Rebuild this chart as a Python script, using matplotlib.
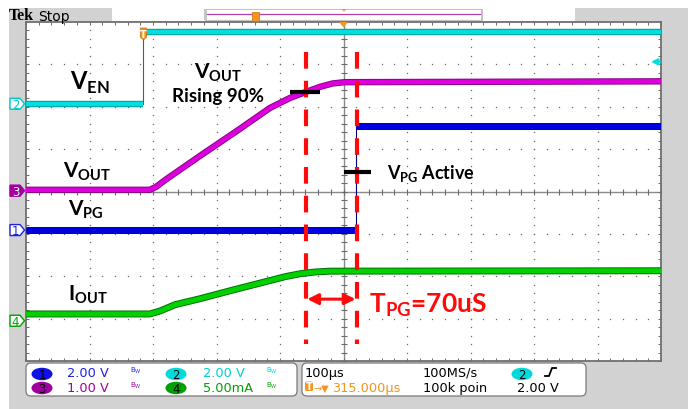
import numpy as np
import matplotlib.pyplot as plt
import matplotlib.transforms as mtransforms
from matplotlib.patches import Rectangle, FancyBboxPatch, Polygon, Ellipse
from matplotlib.lines import Line2D

plt.rcParams['mathtext.fontset'] = 'custom'
plt.rcParams['mathtext.rm'] = 'Lato'
plt.rcParams['mathtext.bf'] = 'Lato:bold'

W, H = 688, 410

# horizontal axis: microseconds after trigger, 100 us/div, screen centre at 315 us
t_center = 315
t_div = 100
# vertical axis: divisions from screen centre (8 divisions tall)

# CH2 - V_EN
en_t = [-185, 0, 0, 815]
en_y = [2.07, 2.07, 3.76, 3.76]

# CH3 - V_OUT
out_t = [-185, 10, 20, 34, 89, 152, 199, 231, 256, 278, 298, 317, 815]
out_y = [0.04, 0.04, 0.11, 0.27, 0.84, 1.48, 1.97, 2.21, 2.35, 2.47, 2.55, 2.58, 2.60]

# CH1 - V_PG
pg_t = [-185, 335, 335, 815]
pg_y = [-0.91, -0.91, 1.55, 1.55]

# CH4 - I_OUT
io_t = [-185, 10, 26, 50, 89, 137, 184, 223, 247, 270, 294, 815]
io_y = [-2.89, -2.89, -2.82, -2.67, -2.53, -2.34, -2.16, -2.01, -1.94, -1.90, -1.88, -1.87]

# channel ground markers on the left edge
gnd_names = ['2', '3', '1', '4']
gnd_levels = [2.07, 0.02, -0.91, -3.05]

# cursors / annotations
cursor_t = [256, 336]
cursor_top, cursor_bot = 3.29, -3.59
mark90 = (231, 278, 2.34)
markpg = (316, 358, 0.46)
arrow_y = -2.54
trig_level = 3.06

fig = plt.figure(figsize=(W / 100, H / 100), dpi=100)
fig.patch.set_facecolor('white')
# pixel coordinates, origin top-left
PX = mtransforms.Affine2D().scale(1 / W, -1 / H).translate(0, 1) + fig.transFigure

# scope frame
fig.patches.append(Rectangle((9, 9), 679, 401, transform=PX, facecolor='#d2d2d2', edgecolor='none', zorder=0))
fig.patches.append(Rectangle((112, 9), 463, 13, transform=PX, facecolor='white', edgecolor='none', zorder=1))
fig.patches.append(Rectangle((205, 9.5), 277, 11.5, transform=PX, facecolor='white', edgecolor='#c4c4c4', lw=0.8, zorder=2))
fig.patches.append(Rectangle((204, 9.5), 2.5, 11.5, transform=PX, facecolor='#c4c4c4', edgecolor='none', zorder=2))
fig.patches.append(Rectangle((480.5, 9.5), 2.5, 11.5, transform=PX, facecolor='#c4c4c4', edgecolor='none', zorder=2))
fig.lines.append(Line2D([207, 480], [15.3, 15.3], transform=PX, color='#b040b0', lw=0.9, zorder=3))
fig.patches.append(Rectangle((252, 13), 7, 8.5, transform=PX, facecolor='#f7941d', edgecolor='#d07000', lw=0.5, zorder=4))
fig.patches.append(Polygon([(341.5, 10), (346.5, 10), (344, 12.5)], closed=True, transform=PX,
                           facecolor='#f7941d', edgecolor='none', zorder=4))
fig.text(9, 20.5, 'Tek', transform=PX, fontsize=11.5, fontfamily='Liberation Serif', fontweight='bold', va='baseline', zorder=5)
fig.text(38, 20.5, 'Stop', transform=PX, fontsize=10, fontfamily='DejaVu Sans', va='baseline', zorder=5)

ax = fig.add_axes([26 / W, (H - 362) / H, 635 / W, 339 / H])
ax.set_zorder(3)
ax.set_facecolor('white')
ax.set_xlim(t_center - 5 * t_div, t_center + 5 * t_div)
ax.set_ylim(-4, 4)
for s in ax.spines.values():
    s.set_color('#707070')
    s.set_linewidth(1.3)
ax.set_xticks(np.arange(t_center - 5 * t_div, t_center + 5 * t_div + 1, t_div / 5))
ax.set_yticks(np.arange(-4, 4.01, 0.2))
ax.tick_params(direction='in', length=2.5, width=0.7, color='#6a6a6a',
               top=True, right=True, labelbottom=False, labelleft=False)

# dotted graticule
gx = t_center + t_div * np.array([-4, -3, -2, -1, 1, 2, 3, 4])
gy = np.array([-3, -2, -1, 1, 2, 3])
ys = np.arange(-4, 4.01, 0.2)
xs = np.arange(t_center - 5 * t_div, t_center + 5 * t_div + 1, t_div / 5)
for x in gx:
    ax.plot(np.full_like(ys, x), ys, ls='none', marker='s', ms=0.9, mew=0, color='#6a6a6a', zorder=1)
for y in gy:
    ax.plot(xs, np.full_like(xs, y), ls='none', marker='s', ms=0.9, mew=0, color='#6a6a6a', zorder=1)
# centre cross with fine ticks
ax.axhline(0, color='#8a8a8a', lw=1.0, zorder=1)
ax.axvline(t_center, color='#8a8a8a', lw=1.0, zorder=1)
ax.plot(xs, np.zeros_like(xs), ls='none', marker='|', ms=4, mew=0.8, color='#6a6a6a', zorder=1)
ax.plot(np.full_like(ys, t_center), ys, ls='none', marker='_', ms=5, mew=0.8, color='#6a6a6a', zorder=1)


def thick(t, y, core, edge, lw=3.2):
    ax.plot(t, y, color=edge, lw=lw + 1.4, solid_capstyle='butt', zorder=3)
    ax.plot(t, y, color=core, lw=lw, solid_capstyle='butt', zorder=4)


# V_EN (step: thin vertical edge)
ax.plot(en_t, en_y, color='#007f7f', lw=0.8, zorder=3)
thick(en_t[:2], en_y[:2], '#00dede', '#009a9a')
thick(en_t[2:], en_y[2:], '#00dede', '#009a9a')
# V_OUT
thick(out_t, out_y, '#dd00dd', '#8a008a')
# V_PG
ax.plot(pg_t, pg_y, color='#000070', lw=0.8, zorder=3)
thick(pg_t[:2], pg_y[:2], '#0000e0', '#00007a', lw=3.6)
thick(pg_t[2:], pg_y[2:], '#0000e0', '#00007a', lw=3.6)
# I_OUT
thick(io_t, io_y, '#00d200', '#006e00', lw=3.6)

# cursors
for ct in cursor_t:
    ax.plot([ct, ct], [cursor_top, cursor_bot], color='#ff0a0a', lw=3.0,
            ls=(0, (4.0, 2.9)), dash_capstyle='butt', zorder=6)
ax.plot(mark90[:2], [mark90[2]] * 2, color='black', lw=3.0, solid_capstyle='butt', zorder=7)
ax.plot(markpg[:2], [markpg[2]] * 2, color='black', lw=3.0, solid_capstyle='butt', zorder=7)
ax.annotate('', xy=(cursor_t[0] + 2, arrow_y), xytext=(cursor_t[1] - 2, arrow_y),
            arrowprops=dict(arrowstyle='<|-|>', color='#ff0a0a', lw=2.2, mutation_scale=16,
                            shrinkA=0, shrinkB=0), zorder=7)

# trigger position marker and centre marker
bx = mtransforms.blended_transform_factory(ax.transData, PX)
ax.add_patch(Polygon([(-5, 29), (5, 29), (5, 38), (0, 41), (-5, 38)], closed=True, transform=bx,
                     facecolor='#f7941d', edgecolor='#d07000', lw=0.5, clip_on=False, zorder=8))
ax.text(0, 37.5, 'T', transform=bx, color='white', fontsize=7, fontweight='bold',
        ha='center', va='baseline', clip_on=False, zorder=9)
ax.add_patch(Polygon([(t_center - 7, 23), (t_center + 7, 23), (t_center, 28.5)], closed=True,
                     transform=bx, facecolor='#f7941d', edgecolor='none', clip_on=False, zorder=8))

# trigger level arrow on right edge
by = mtransforms.blended_transform_factory(PX, ax.transData)
ax.annotate('', xy=(651, trig_level), xytext=(660, trig_level), xycoords=by, textcoords=by,
            arrowprops=dict(arrowstyle='-|>', color='#00e0e0', lw=1.6, mutation_scale=9,
                            shrinkA=0, shrinkB=0), annotation_clip=False, zorder=8)

# channel ground tags
tag_cols = {'1': '#2020e0', '2': '#00c8c8', '3': '#a000a0', '4': '#00a000'}
for name, lev in zip(gnd_names, gnd_levels):
    col = tag_cols[name]
    y0 = ax.transData.transform((0, lev))[1]
    ypx = H - y0
    filled = name == '3'
    poly = [(10, ypx - 5.5), (20, ypx - 5.5), (24.5, ypx), (20, ypx + 5.5), (10, ypx + 5.5)]
    fig.patches.append(Polygon(poly, closed=True, transform=PX, facecolor=col if filled else 'white',
                               edgecolor=col, lw=1.0, zorder=5))
    fig.text(15.5, ypx + 0.5, name, transform=PX, color='white' if filled else col, fontsize=8.5,
             fontfamily='DejaVu Sans', ha='center', va='center', zorder=6)

# annotation texts
lab = dict(transform=PX, fontfamily='Lato', fontweight='bold', va='baseline', color='black', zorder=10)
fig.text(70, 90, r'$\mathbf{V}_\mathbf{EN}$', fontsize=17, **lab)
fig.text(218, 78, r'$\mathbf{V}_\mathbf{OUT}$', fontsize=15, ha='center', **lab)
fig.text(218, 102, 'Rising 90%', fontsize=13.5, ha='center', **lab)
fig.text(63, 177, r'$\mathbf{V}_\mathbf{OUT}$', fontsize=15, **lab)
fig.text(68, 215, r'$\mathbf{V}_\mathbf{PG}$', fontsize=15, **lab)
fig.text(387, 179, r'$\mathbf{V}_\mathbf{PG}$ Active', fontsize=13, **lab)
fig.text(68, 300, r'$\mathbf{I}_\mathbf{OUT}$', fontsize=15, **lab)
lab['color'] = '#ff0a0a'
fig.text(369, 313, r'$\mathbf{T}_\mathbf{PG}$=70uS', fontsize=19, **lab)

# status panel
for x0, w in [(26, 271), (302, 284)]:
    fig.patches.append(FancyBboxPatch((x0, 364), w, 33, boxstyle='round,pad=0,rounding_size=5',
                                      transform=PX, facecolor='white', edgecolor='#7a7a7a', lw=0.9, zorder=2))

st = dict(transform=PX, fontfamily='DejaVu Sans', fontsize=9.3, va='baseline', zorder=6)
badges = [(42, 375, '1', '#1010e8'), (42, 389, '3', '#a000a0'),
          (176, 375, '2', '#00dada'), (176, 389, '4', '#00a000'),
          (522, 375, '2', '#00dada')]
for cx, cy, name, col in badges:
    fig.patches.append(Ellipse((cx, cy), 21, 12.5, transform=PX, facecolor=col, edgecolor='none', zorder=5))
    fig.text(cx, cy + 0.5, name, transform=PX, color='black', fontsize=8.5, fontfamily='DejaVu Sans',
             ha='center', va='center', zorder=6)

fig.text(67, 377, '2.00 V', color='#2020e8', **st)
fig.text(67, 392, '1.00 V', color='#a000a0', **st)
fig.text(203, 377, '2.00 V', color='#00d0d0', **st)
fig.text(203, 392, '5.00mA', color='#00a000', **st)
bw = dict(transform=PX, fontfamily='DejaVu Sans', fontsize=5, va='baseline', zorder=6)
for x0, y0, col in [(130, 373, '#2020e8'), (130, 388, '#a000a0'), (266, 373, '#00d0d0'), (266, 388, '#00a000')]:
    fig.text(x0, y0, r'B$_\mathrm{W}$', color=col, **bw)

fig.text(305, 377, '100\u00b5s', color='black', **st)
fig.text(423, 377, '100MS/s', color='black', **st)
fig.text(423, 392, '100k poin', color='black', **st)
fig.text(517, 392, '2.00 V', color='black', **st)
fig.lines.append(Line2D([545, 549, 552, 556], [377, 377, 369, 369], transform=PX, color='black', lw=1.3, zorder=6))
fig.patches.append(FancyBboxPatch((305, 382.5), 8, 9.5, boxstyle='round,pad=0,rounding_size=1.5', transform=PX,
                                  facecolor='#f7941d', edgecolor='none', zorder=5))
fig.text(309, 390.5, 'T', transform=PX, color='white', fontsize=7, fontweight='bold', ha='center',
         va='baseline', zorder=6)
fig.text(314, 392, '\u2192\u25bc', transform=PX, color='#f7941d', fontsize=7, fontfamily='DejaVu Sans',
         va='baseline', zorder=6)
fig.text(332, 392, '315.000\u00b5s', color='#f7941d', **st)

fig.savefig('out.png', dpi=100, facecolor=fig.get_facecolor())
